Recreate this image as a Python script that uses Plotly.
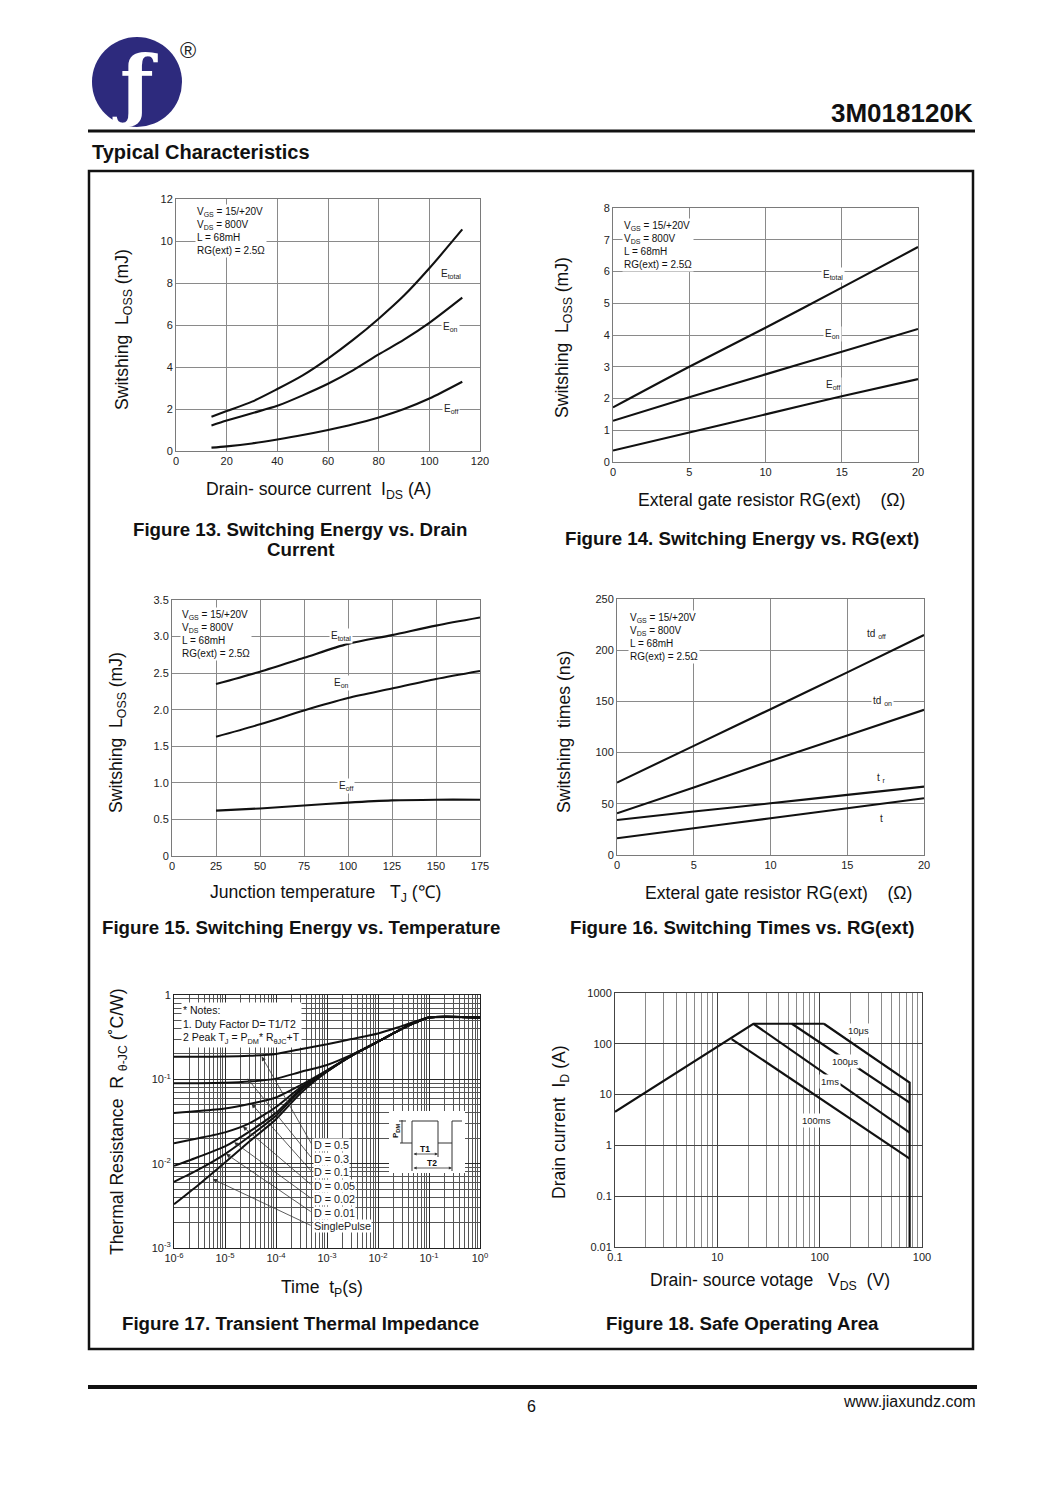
import plotly.graph_objects as go

W, H = 1050, 1492
OFF = 8  # page body margin of the html page
FONT = "Liberation Sans, Arial, sans-serif"

# ---------------- data ----------------
# Fig 13: switching energy vs drain current
f13_ids = [14, 20, 30, 40, 50, 60, 70, 80, 90, 100, 113]
f13_etotal = [1.63, 1.9, 2.35, 2.95, 3.6, 4.4, 5.3, 6.3, 7.4, 8.7, 10.55]
f13_eon = [1.22, 1.45, 1.8, 2.15, 2.65, 3.2, 3.85, 4.6, 5.3, 6.1, 7.3]
f13_eoff = [0.16, 0.22, 0.36, 0.55, 0.76, 1.0, 1.27, 1.6, 2.0, 2.5, 3.3]

# Fig 14: switching energy vs RG(ext)
f14_rg = [0, 5, 10, 15, 20]
f14_etotal = [1.72, 3.0, 4.23, 5.49, 6.77]
f14_eon = [1.3, 2.04, 2.76, 3.47, 4.19]
f14_eoff = [0.36, 0.93, 1.5, 2.07, 2.61]

# Fig 15: switching energy vs temperature
f15_tj = [25, 50, 75, 100, 125, 150, 175]
f15_etotal = [2.35, 2.52, 2.71, 2.9, 3.02, 3.15, 3.26]
f15_eon = [1.63, 1.8, 1.99, 2.16, 2.29, 2.42, 2.53]
f15_eoff = [0.62, 0.65, 0.69, 0.73, 0.76, 0.77, 0.77]
f15_yticks = [0, 0.5, 1.0, 1.5, 2.0, 2.5, 3.0, 3.5]
f15_yticktext = ["0", "0.5", "1.0", "1.5", "2.0", "2.5", "3.0", "3.5"]

# Fig 16: switching times vs RG(ext)
f16_rg = [0, 5, 10, 15, 20]
f16_tdoff = [70.7, 106.6, 142.4, 178.3, 214.8]
f16_tdon = [40.7, 65.8, 91.9, 116.7, 141.8]
f16_tr = [34.2, 42.4, 50.5, 58.7, 66.8]
f16_tf = [16.3, 26.1, 35.9, 45.6, 55.4]

# Fig 17: transient thermal impedance
f17_t = [1e-6, 3e-6, 1e-5, 3e-5, 1e-4, 3e-4, 1e-3, 3e-3, 1e-2, 3e-2, 0.1, 1]
f17_d05 = [0.185, 0.185, 0.186, 0.19, 0.2, 0.227, 0.26, 0.30, 0.35, 0.43, 0.54, 0.54]
f17_d03 = [0.09, 0.09, 0.091, 0.094, 0.102, 0.122, 0.148, 0.195, 0.28, 0.40, 0.54, 0.54]
f17_d01 = [0.040, 0.042, 0.045, 0.051, 0.061, 0.085, 0.128, 0.19, 0.28, 0.40, 0.54, 0.54]
f17_d005 = [0.0175, 0.020, 0.0235, 0.030, 0.047, 0.080, 0.126, 0.19, 0.28, 0.40, 0.54, 0.54]
f17_d002 = [0.0094, 0.012, 0.016, 0.024, 0.040, 0.076, 0.125, 0.19, 0.28, 0.40, 0.54, 0.54]
f17_d001 = [0.0061, 0.0085, 0.013, 0.021, 0.037, 0.073, 0.124, 0.19, 0.28, 0.40, 0.54, 0.54]
f17_single = [0.0033, 0.0056, 0.0103, 0.0183, 0.0337, 0.068, 0.123, 0.19, 0.28, 0.40, 0.54, 0.54]
f17_labels = ["D = 0.5", "D = 0.3", "D = 0.1", "D = 0.05", "D = 0.02", "D = 0.01", "SinglePulse"]
# arrow heads (log10 t, log10 R) on each curve
f17_head_x = [-4.28, -4.56, -4.48, -4.65, -4.82, -4.98, -5.24]
f17_head_y = [-0.73, -0.99, -1.29, -1.56, -1.745, -1.883, -2.183]
f17_xtickvals = [1e-6, 1e-5, 1e-4, 1e-3, 1e-2, 1e-1, 1]
f17_xticktext = ["10<sup>-6</sup>", "10<sup>-5</sup>", "10<sup>-4</sup>", "10<sup>-3</sup>",
                 "10<sup>-2</sup>", "10<sup>-1</sup>", "10<sup>0</sup>"]
f17_ytickvals = [1e-3, 1e-2, 1e-1, 1]
f17_yticktext = ["10<sup>-3</sup>", "10<sup>-2</sup>", "10<sup>-1</sup>", "1"]

# Fig 18: safe operating area
f18_lim_v = [0.1, 2.25, 11.0]
f18_lim_i = [4.6, 248, 248]
f18_100ms_v = [1.38, 75.7]
f18_100ms_i = [124, 0.55]
f18_1ms_v = [2.25, 75.7]
f18_1ms_i = [248, 1.78]
f18_100us_v = [5.35, 75.7]
f18_100us_i = [248, 6.95]
f18_10us_v = [11.0, 75.7, 75.7]
f18_10us_i = [248, 17.3, 0.01]
f18_labels = ["10μs", "100μs", "1ms", "100ms"]
f18_label_v = [24.0, 17.8, 12.6, 9.3]
f18_label_i = [182, 45.7, 18.2, 3.16]
f18_xtickvals = [0.1, 1, 10, 100]
f18_xticktext = ["0.1", "10", "100", "100"]
f18_ytickvals = [0.01, 0.1, 1, 10, 100, 1000]
f18_yticktext = ["0.01", "0.1", "1", "10", "100", "1000"]

COND = "V<sub>GS</sub> = 15/+20V<br>V<sub>DS</sub> = 800V<br>L = 68mH<br>RG(ext) = 2.5Ω"

# ---------------- helpers ----------------
def px(x):
    return (x - OFF) / W

def py(y):
    return 1 - (y - OFF) / H

def axstyle(**kw):
    base = dict(showline=True, mirror=True, linecolor='#7a7a7a', linewidth=1,
                showgrid=True, gridcolor='#8a8a8a', gridwidth=1, zeroline=False,
                ticks='', tickfont=dict(family=FONT, size=11, color='#222'),
                fixedrange=True, automargin=False)
    base.update(kw)
    return base

fig = go.Figure()
layout = dict(width=W, height=H, margin=dict(l=0, r=0, t=0, b=0, autoexpand=False),
              autosize=False,
              paper_bgcolor='white', plot_bgcolor='white', showlegend=False,
              font=dict(family=FONT, color='#111'))

panels = [
    ((176, 480), (199, 451), dict(range=[0, 120], dtick=20, tick0=0), dict(range=[0, 12], dtick=2, tick0=0)),
    ((613, 918), (208, 462), dict(range=[0, 20], dtick=5, tick0=0), dict(range=[0, 8], dtick=1, tick0=0)),
    ((172, 480), (600, 856), dict(range=[0, 175], dtick=25, tick0=0),
     dict(range=[0, 3.5], tickmode='array', tickvals=f15_yticks, ticktext=f15_yticktext)),
    ((617, 924), (599, 855), dict(range=[0, 20], dtick=5, tick0=0), dict(range=[0, 250], dtick=50, tick0=0)),
    ((174, 480), (995, 1248),
     dict(type='log', range=[-6, 0], tickmode='array', tickvals=f17_xtickvals, ticktext=f17_xticktext,
          gridcolor='#2a2a2a', linecolor='#222',
          minor=dict(dtick='D1', showgrid=True, gridcolor='#555', gridwidth=0.8, ticks='')),
     dict(type='log', range=[-3, 0], tickmode='array', tickvals=f17_ytickvals, ticktext=f17_yticktext,
          gridcolor='#2a2a2a', linecolor='#222',
          minor=dict(dtick='D1', showgrid=True, gridcolor='#555', gridwidth=0.8, ticks=''))),
    ((615, 922), (993, 1247),
     dict(type='log', range=[-1, 2], tickmode='array', tickvals=f18_xtickvals, ticktext=f18_xticktext,
          gridcolor='#444', linecolor='#444',
          minor=dict(dtick='D1', showgrid=True, gridcolor='#8a8a8a', gridwidth=0.8, ticks='')),
     dict(type='log', range=[-2, 3], tickmode='array', tickvals=f18_ytickvals, ticktext=f18_yticktext,
          gridcolor='#444', linecolor='#444')),
]

sfx = []
for i, (xd, yd, xo, yo) in enumerate(panels):
    s = '' if i == 0 else str(i + 1)
    sfx.append(s)
    layout['xaxis' + s] = axstyle(domain=[px(xd[0]), px(xd[1])], anchor='y' + s, **xo)
    layout['yaxis' + s] = axstyle(domain=[py(yd[1]), py(yd[0])], anchor='x' + s, **yo)

def line(x, y, panel, shape='spline', width=2.1, smoothing=0.8):
    s = sfx[panel]
    fig.add_trace(go.Scatter(x=x, y=y, xaxis='x' + s, yaxis='y' + s, mode='lines',
                             line=dict(color='#111', width=width, shape=shape,
                                       smoothing=smoothing if shape == 'spline' else None),
                             hoverinfo='skip'))

line(f13_ids, f13_etotal, 0); line(f13_ids, f13_eon, 0); line(f13_ids, f13_eoff, 0)
line(f14_rg, f14_etotal, 1); line(f14_rg, f14_eon, 1); line(f14_rg, f14_eoff, 1)
line(f15_tj, f15_etotal, 2); line(f15_tj, f15_eon, 2); line(f15_tj, f15_eoff, 2)
line(f16_rg, f16_tdoff, 3); line(f16_rg, f16_tdon, 3); line(f16_rg, f16_tr, 3); line(f16_rg, f16_tf, 3)
for ys in [f17_d05, f17_d03, f17_d01, f17_d005, f17_d002, f17_d001, f17_single]:
    line(f17_t, ys, 4, smoothing=0.6, width=2)
line(f18_lim_v, f18_lim_i, 5, shape='linear', width=2.2)
line(f18_100ms_v, f18_100ms_i, 5, shape='linear', width=2.2)
line(f18_1ms_v, f18_1ms_i, 5, shape='linear', width=2.2)
line(f18_100us_v, f18_100us_i, 5, shape='linear', width=2.2)
line(f18_10us_v, f18_10us_i, 5, shape='linear', width=2.2)

annotations = []
shapes = []

def ann(text, x, y, size=12, xanchor='center', yanchor='middle', angle=0, bg=None,
        color='#111', family=FONT, align='left'):
    d = dict(text=text, x=px(x), y=py(y), xref='paper', yref='paper', showarrow=False,
             xanchor=xanchor, yanchor=yanchor, textangle=angle, align=align,
             font=dict(family=family, size=size, color=color))
    if bg:
        d['bgcolor'] = bg
    annotations.append(d)

def dlab(text, x, y, panel, size=10, xanchor='center', bg='white'):
    s = sfx[panel]
    annotations.append(dict(text=text, x=x, y=y, xref='x' + s, yref='y' + s, showarrow=False,
                            xanchor=xanchor, yanchor='middle', bgcolor=bg, borderpad=1,
                            font=dict(family=FONT, size=size, color='#222')))

# ---- page decoration ----
shapes.append(dict(type='circle', xref='paper', yref='paper', x0=px(92), x1=px(182),
                   y0=py(127), y1=py(37), fillcolor='#2d2a7d', line=dict(width=0)))
ann("<b>ƒ</b>", 135, 84, size=78, color='white', family="DejaVu Serif")
ann("®", 188, 51, size=22, color='#222')
ann("<b>3M018120K</b>", 975, 113, size=26, xanchor='right')
shapes.append(dict(type='line', xref='paper', yref='paper', x0=px(88), x1=px(975),
                   y0=py(131), y1=py(131), line=dict(color='#111', width=3)))
ann("<b>Typical Characteristics</b>", 90, 152, size=20, xanchor='left')
shapes.append(dict(type='rect', xref='paper', yref='paper', x0=px(89), x1=px(973),
                   y0=py(1349), y1=py(171), line=dict(color='#111', width=2.5)))
shapes.append(dict(type='line', xref='paper', yref='paper', x0=px(88), x1=px(977),
                   y0=py(1387), y1=py(1387), line=dict(color='#111', width=4)))
ann("6", 531, 1406, size=16)
ann("www.jiaxundz.com", 978, 1401, size=16, xanchor='right')

# ---- figure titles ----
TS = 18.7
ann("<b>Figure 13. Switching Energy vs. Drain</b>", 300, 529, size=TS)
ann("<b>Current</b>", 301, 549, size=TS)
ann("<b>Figure 14. Switching Energy vs. RG(ext)</b>", 742, 539, size=TS)
ann("<b>Figure 15. Switching Energy vs. Temperature</b>", 301, 927, size=TS)
ann("<b>Figure 16. Switching Times vs. RG(ext)</b>", 742, 927, size=TS)
ann("<b>Figure 17. Transient Thermal Impedance</b>", 300, 1323, size=TS)
ann("<b>Figure 18. Safe Operating Area</b>", 742, 1323, size=TS)

# ---- axis titles ----
NB = "\u00a0"
AS = 17.6
ann("Switshing" + NB + NB + "L<sub>OSS</sub> (mJ)", 123, 330, size=AS, angle=-90)
ann("Drain- source current " + NB + "I<sub>DS</sub> (A)", 318, 491, size=AS)
ann("Switshing" + NB + NB + "L<sub>OSS</sub> (mJ)", 563, 338, size=AS, angle=-90)
ann("Exteral gate resistor RG(ext)" + NB * 4 + "(Ω)", 771, 500, size=AS)
ann("Switshing" + NB + NB + "L<sub>OSS</sub> (mJ)", 118, 733, size=AS, angle=-90)
ann("Junction temperature" + NB * 3 + "T<sub>J</sub> (℃)", 325, 894, size=AS)
ann("Switshing" + NB + NB + "times (ns)", 564, 732, size=AS, angle=-90)
ann("Exteral gate resistor RG(ext)" + NB * 4 + "(Ω)", 778, 893, size=AS)
ann("Thermal Resistance" + NB + NB + "R <sub>θ-JC</sub> (˚C/W)", 118, 1122, size=AS, angle=-90)
ann("Time" + NB + NB + "t<sub>P</sub>(s)", 322, 1288, size=AS)
ann("Drain current" + NB + NB + "I<sub>D</sub> (A)", 560, 1122, size=AS, angle=-90)
ann("Drain- source votage" + NB * 3 + "V<sub>DS</sub>" + NB + NB + "(V)", 770, 1281, size=AS)

# ---- condition boxes ----
ann(COND, 195, 204, size=10, xanchor='left', yanchor='top', bg='white')
ann(COND, 622, 218, size=10, xanchor='left', yanchor='top', bg='white')
ann(COND, 180, 607, size=10, xanchor='left', yanchor='top', bg='white')
ann(COND, 628, 610, size=10, xanchor='left', yanchor='top', bg='white')

# ---- curve labels ----
dlab("E<sub>total</sub>", 108.5, 8.45, 0)
dlab("E<sub>on</sub>", 108.5, 5.9, 0)
dlab("E<sub>off</sub>", 108.5, 1.98, 0)
dlab("E<sub>total</sub>", 14.4, 5.9, 1)
dlab("E<sub>on</sub>", 14.4, 4.02, 1)
dlab("E<sub>off</sub>", 14.4, 2.42, 1)
dlab("E<sub>total</sub>", 96.3, 3.01, 2)
dlab("E<sub>on</sub>", 96.3, 2.36, 2)
dlab("E<sub>off</sub>", 98.6, 0.96, 2)
dlab("td <sub>off</sub>", 16.9, 216, 3)
dlab("td <sub>on</sub>", 17.3, 150, 3)
dlab("t <sub>r</sub>", 17.2, 75, 3)
dlab("t", 17.2, 36, 3)
# log axes: annotation positions are given as log10 of the data values
import math
for lab, v, i in zip(f18_labels, f18_label_v, f18_label_i):
    dlab(lab, math.log10(v), math.log10(i), 5, size=9.5)

# ---- Fig 17 notes, labels and arrows ----
ann("* Notes:<br>1. Duty Factor D= T1/T2<br>2 Peak T<sub>J</sub> = P<sub>DM</sub>* R<sub>θJC</sub>+T",
    181, 1002, size=10.5, xanchor='left', yanchor='top', bg='white')
s5 = sfx[4]
tail_x = -3.29
label_y = [-1.78, -1.94, -2.10, -2.26, -2.42, -2.58, -2.74]
for lab, hx, hy, ly in zip(f17_labels, f17_head_x, f17_head_y, label_y):
    annotations.append(dict(text='', x=hx, y=hy, xref='x' + s5, yref='y' + s5,
                            ax=tail_x, ay=ly, axref='x' + s5, ayref='y' + s5, showarrow=True,
                            arrowhead=2, arrowsize=1.1, arrowwidth=0.8, arrowcolor='#333'))
    annotations.append(dict(text=lab, x=tail_x + 0.02, y=ly, xref='x' + s5, yref='y' + s5,
                            showarrow=False, xanchor='left', yanchor='middle', bgcolor='white',
                            borderpad=0, font=dict(family=FONT, size=10.8, color='#222')))

# pulse inset
shapes.append(dict(type='rect', xref='paper', yref='paper', x0=px(389), x1=px(465),
                   y0=py(1173), y1=py(1111), fillcolor='white', line=dict(width=0)))
shapes.append(dict(type='path', xref='paper', yref='paper',
                   path="M {} {} L {} {} L {} {} L {} {} L {} {} L {} {} L {} {} L {} {}".format(
                       px(400), py(1143), px(412), py(1143), px(412), py(1121), px(438), py(1121),
                       px(438), py(1143), px(452), py(1143), px(452), py(1121), px(462), py(1121)),
                   line=dict(color='#333', width=1)))
for (x0, y0, x1, y1) in [(402, 1120, 402, 1143), (399, 1121, 406, 1121),
                         (412, 1143, 412, 1171), (438, 1143, 438, 1157), (452, 1143, 452, 1171)]:
    shapes.append(dict(type='line', xref='paper', yref='paper', x0=px(x0), x1=px(x1),
                       y0=py(y0), y1=py(y1), line=dict(color='#333', width=1)))
annotations.append(dict(text='', x=px(438), y=py(1154), xref='paper', yref='paper',
                        ax=-26, ay=0, showarrow=True, arrowside='end+start', arrowhead=2,
                        arrowsize=0.8, arrowwidth=0.8, arrowcolor='#333'))
annotations.append(dict(text='', x=px(452), y=py(1168), xref='paper', yref='paper',
                        ax=-40, ay=0, showarrow=True, arrowside='end+start', arrowhead=2,
                        arrowsize=0.8, arrowwidth=0.8, arrowcolor='#333'))
ann("<b>T1</b>", 425, 1149, size=8.5)
ann("<b>T2</b>", 432, 1163, size=8.5)
ann("<b>P<sub>DM</sub></b>", 396, 1131, size=8, angle=-90)

layout['annotations'] = annotations
layout['shapes'] = shapes
fig.update_layout(**layout)
fig.write_html("out.html")
